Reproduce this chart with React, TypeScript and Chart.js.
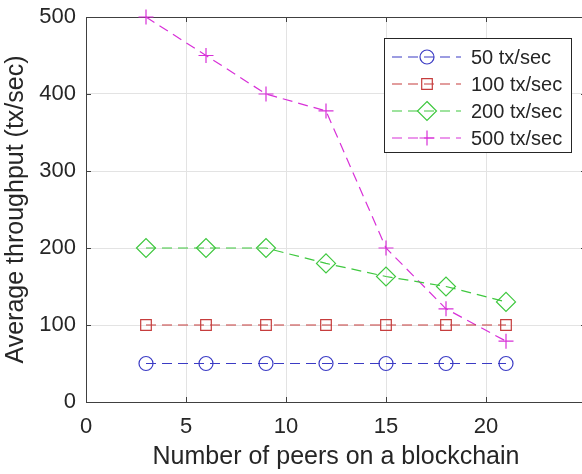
import { useEffect, useRef } from 'react';
import { Chart, registerables } from 'chart.js';

Chart.register(...registerables);

const peers = [3, 6, 9, 12, 15, 18, 21];
const tps50 = [50, 50, 50, 50, 50, 50, 50];
const tps100 = [100, 100, 100, 100, 100, 100, 100];
const tps200 = [200, 200, 200, 180, 163, 150, 130];
const tps500 = [500, 450, 400, 378, 200, 121, 79];
const seriesLabels = ['50 tx/sec', '100 tx/sec', '200 tx/sec', '500 tx/sec'];
const seriesColors = ['#3b3bc4', '#c63d3d', '#3fc83f', '#d830d8'];
const seriesMarkers = ['circle', 'rect', 'rectRot', 'cross'];
const markerRadius = [7, 7.5, 9.5, 7.5];
const xTicks = [0, 5, 10, 15, 20];
const yTicks = [0, 100, 200, 300, 400, 500];
const xTitle = 'Number of peers on a blockchain';
const yTitle = 'Average throughput (tx/sec)';

const FONT = '"Liberation Sans", Arial, Helvetica, sans-serif';
const TEXT = '#262626';
const AXIS = '#404040';
const DASH = [10, 6];

function drawMarker(ctx: CanvasRenderingContext2D, style: string, r: number, x: number, y: number) {
  ctx.beginPath();
  if (style === 'circle') {
    ctx.arc(x, y, r, 0, Math.PI * 2);
  } else if (style === 'rect') {
    const s = r * Math.SQRT1_2;
    ctx.rect(x - s, y - s, 2 * s, 2 * s);
  } else if (style === 'rectRot') {
    ctx.moveTo(x, y - r);
    ctx.lineTo(x + r, y);
    ctx.lineTo(x, y + r);
    ctx.lineTo(x - r, y);
    ctx.closePath();
  } else {
    ctx.moveTo(x - r, y);
    ctx.lineTo(x + r, y);
    ctx.moveTo(x, y - r);
    ctx.lineTo(x, y + r);
  }
  ctx.stroke();
}

const boxPlugin = {
  id: 'matlabBox',
  beforeDatasetsDraw(chart: any) {
    const { ctx, chartArea: a, scales } = chart;
    ctx.save();
    ctx.strokeStyle = AXIS;
    ctx.lineWidth = 1;
    ctx.beginPath();
    ctx.moveTo(a.left, a.top + 0.5);
    ctx.lineTo(a.right, a.top + 0.5);
    ctx.moveTo(a.right - 0.5, a.top);
    ctx.lineTo(a.right - 0.5, a.bottom);
    const t = 5;
    for (const v of xTicks) {
      const x = Math.round(scales.x.getPixelForValue(v)) + 0.5;
      ctx.moveTo(x, a.bottom);
      ctx.lineTo(x, a.bottom - t);
      ctx.moveTo(x, a.top);
      ctx.lineTo(x, a.top + t);
    }
    for (const v of yTicks) {
      const y = Math.round(scales.y.getPixelForValue(v)) + 0.5;
      ctx.moveTo(a.left, y);
      ctx.lineTo(a.left + t, y);
      ctx.moveTo(a.right, y);
      ctx.lineTo(a.right - t, y);
    }
    ctx.stroke();
    ctx.restore();
  },
};

const legendPlugin = {
  id: 'matlabLegend',
  afterDatasetsDraw(chart: any) {
    const { ctx } = chart;
    const bx = 384.5, by = 38.5, bw = 187, bh = 114;
    ctx.save();
    ctx.fillStyle = '#ffffff';
    ctx.fillRect(bx, by, bw, bh);
    ctx.strokeStyle = '#262626';
    ctx.lineWidth = 1;
    ctx.strokeRect(bx, by, bw, bh);
    const rowY = [57, 84, 111, 138];
    chart.data.datasets.forEach((ds: any, i: number) => {
      const y = rowY[i];
      ctx.save();
      ctx.strokeStyle = ds.borderColor;
      ctx.lineWidth = 1.2;
      ctx.setLineDash(DASH);
      ctx.beginPath();
      ctx.moveTo(392, y);
      ctx.lineTo(461, y);
      ctx.stroke();
      ctx.setLineDash([]);
      drawMarker(ctx, ds.pointStyle, ds.pointRadius, 427, y);
      ctx.restore();
      ctx.fillStyle = TEXT;
      ctx.font = `20px ${FONT}`;
      ctx.textBaseline = 'middle';
      ctx.textAlign = 'left';
      ctx.fillText(ds.label, 471, y + 1);
    });
    ctx.restore();
  },
};

export default function App() {
  const ref = useRef<HTMLCanvasElement | null>(null);

  useEffect(() => {
    if (!ref.current) return;
    const series = [tps50, tps100, tps200, tps500];
    const chart = new Chart(ref.current, {
      type: 'line',
      data: {
        datasets: series.map((vals, i) => ({
          label: seriesLabels[i],
          data: peers.map((p, j) => ({ x: p, y: vals[j] })),
          borderColor: seriesColors[i],
          backgroundColor: 'rgba(0,0,0,0)',
          borderWidth: 1.2,
          borderDash: DASH,
          pointStyle: seriesMarkers[i] as any,
          pointRadius: markerRadius[i],
          pointBorderWidth: 1.2,
          pointBorderColor: seriesColors[i],
          pointBackgroundColor: 'rgba(0,0,0,0)',
          tension: 0,
          clip: false as any,
        })),
      },
      options: {
        animation: false,
        responsive: false,
        devicePixelRatio: 1,
        layout: { padding: { top: 17, right: 14, left: 0, bottom: 0 } },
        plugins: {
          legend: { display: false },
          tooltip: { enabled: false },
        },
        scales: {
          x: {
            type: 'linear',
            min: 0,
            max: 25,
            afterBuildTicks: (s: any) => {
              s.ticks = xTicks.map((v) => ({ value: v }));
            },
            afterFit: (s: any) => {
              s.height = 72;
            },
            grid: { color: '#e3e3e3', drawTicks: false, lineWidth: 1 },
            border: { color: AXIS, width: 1 },
            ticks: { color: TEXT, font: { family: FONT, size: 22 }, padding: 12, maxRotation: 0 },
            title: {
              display: true,
              text: xTitle,
              color: TEXT,
              font: { family: FONT, size: 25 },
              padding: { top: 0, bottom: 2 },
            },
          },
          y: {
            type: 'linear',
            min: 0,
            max: 500,
            afterBuildTicks: (s: any) => {
              s.ticks = yTicks.map((v) => ({ value: v }));
            },
            afterFit: (s: any) => {
              s.width = 86;
            },
            grid: { color: '#e3e3e3', drawTicks: false, lineWidth: 1 },
            border: { color: AXIS, width: 1 },
            ticks: { color: TEXT, font: { family: FONT, size: 22, lineHeight: 0.4 }, padding: 10 },
            title: {
              display: true,
              text: yTitle,
              color: TEXT,
              font: { family: FONT, size: 25 },
              padding: { top: 1, bottom: 0 },
            },
          },
        },
      },
      plugins: [boxPlugin, legendPlugin],
    });
    return () => chart.destroy();
  }, []);

  return (
    <div style={{ position: 'fixed', left: 0, top: 0, width: 582, height: 474, overflow: 'hidden', background: '#fff' }}>
      <canvas ref={ref} width={600} height={474} style={{ display: 'block', width: 600, height: 474 }} />
    </div>
  );
}
